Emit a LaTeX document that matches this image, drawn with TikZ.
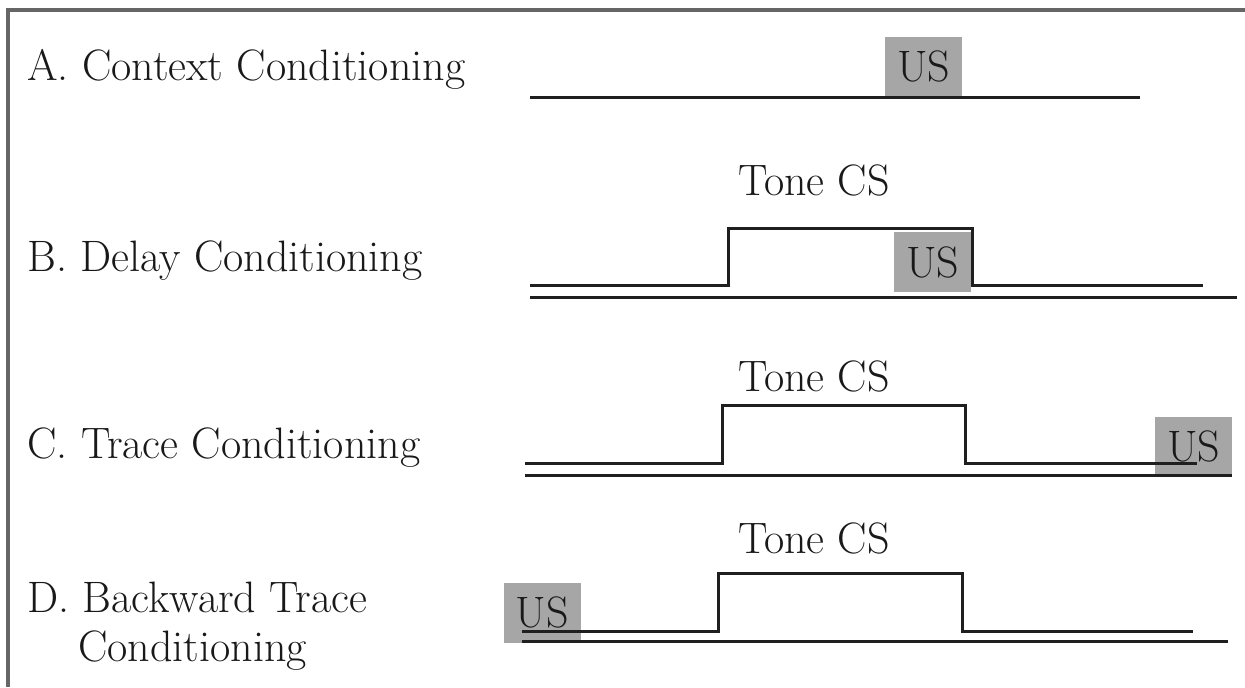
\documentclass[tikz,border=0pt]{standalone}
\begin{document}
\begin{tikzpicture}[x=0.5pt,y=-0.5pt,
  sig/.style={line width=1.5pt,draw=black!88},
  frameline/.style={line width=1.6pt,draw=black!60},
  txt/.style={font=\fontsize{22}{26}\selectfont,text=black!90,inner sep=0},
  lbl/.style={txt,anchor=base west},
  tone/.style={txt,anchor=base},
  usbox/.style={txt,fill=black!35,minimum width=38.5pt,minimum height=30pt}]
\useasboundingbox (0,0) rectangle (1245,687);
\fill[white] (0,0) rectangle (1245,687);
\draw[frameline] (8,687) -- (8,10) -- (1245,10);

% labels
\node[lbl] (la) at (27,80) {A. Context Conditioning};
\node[lbl] (lb) at (27,271) {B. Delay Conditioning};
\node[lbl] (lc) at (27,458) {C. Trace Conditioning};
\node[lbl] (ld) at (27,612) {D. Backward Trace};
\node[lbl] (ld2) at (78,661) {Conditioning};

% US boxes
\node[usbox] (usa) at (923.5,66.5) {US};
\node[usbox] (usb) at (932.5,262) {US};
\node[usbox] (usc) at (1193.5,446.5) {US};
\node[usbox] (usd) at (542,612.5) {US};

% Tone CS labels
\node[tone] (tb) at (814,195) {Tone CS};
\node[tone] (tc) at (814,391) {Tone CS};
\node[tone] (td) at (814,553) {Tone CS};

% A
\draw[sig] (530,97) -- (1140,97);
% B
\draw[sig] (530,285) -- (728,285) -- (728,228) -- (972,228) -- (972,285) -- (1203,285);
\draw[sig] (530,297) -- (1237,297);
% C
\draw[sig] (525,463) -- (722,463) -- (722,405) -- (965,405) -- (965,463) -- (1197,463);
\draw[sig] (525,475) -- (1232,475);
% D
\draw[sig] (522,631) -- (718,631) -- (718,573) -- (962,573) -- (962,631) -- (1193,631);
\draw[sig] (522,641) -- (1228,641);
\end{tikzpicture}
\end{document}
